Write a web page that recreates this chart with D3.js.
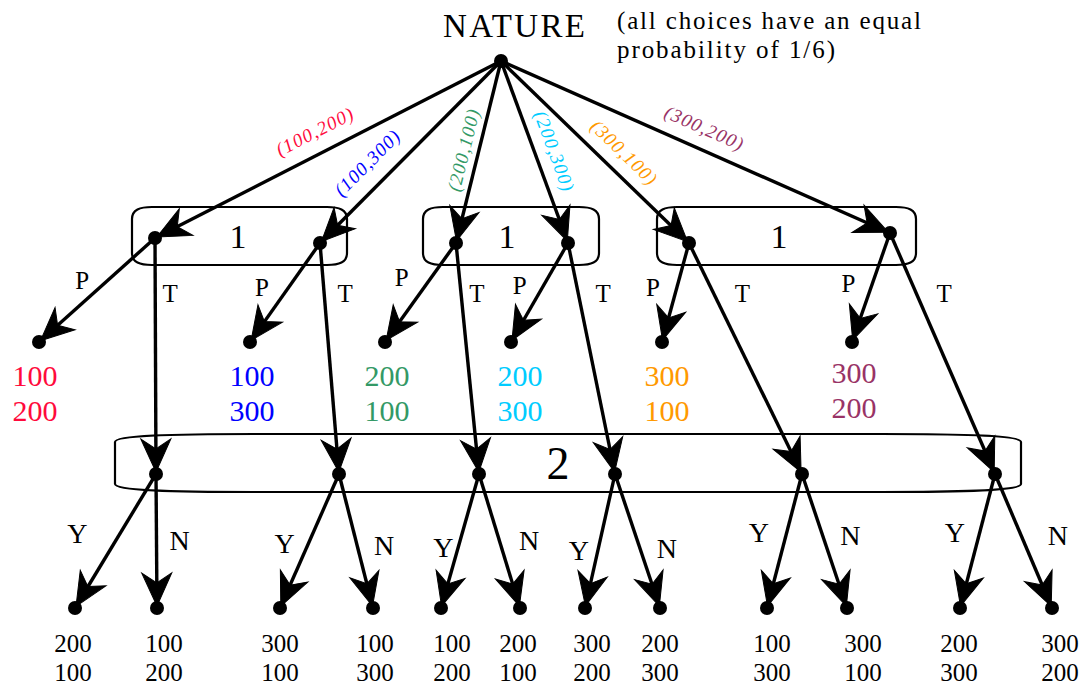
<!DOCTYPE html>
<html>
<head>
<meta charset="utf-8">
<script src="https://cdn.jsdelivr.net/npm/d3@7"></script>
<style>
  body { margin: 0; background: #fff; }
  svg { display: block; }
  text { font-family: "Liberation Serif", "Times New Roman", serif; }
</style>
</head>
<body>
<script>

// ---- tree data ----
var natureMoves = ["(100,200)", "(100,300)", "(200,100)", "(200,300)", "(300,100)", "(300,200)"];
var moveColors = ["#ff0a3c", "#0000ff", "#339966", "#00ccff", "#ff9900", "#993366"];
var p1Actions = ["P", "T"];
var p2Actions = ["Y", "N"];
var payoffP = [[100, 200], [100, 300], [200, 100], [200, 300], [300, 100], [300, 200]];
var payoffY = [[200, 100], [300, 100], [100, 200], [300, 200], [100, 300], [200, 300]];
var payoffN = [[100, 200], [100, 300], [200, 100], [200, 300], [300, 100], [300, 200]];

// ---- layout ----
var width = 1084,
    height = 688;

var levelY = d3.scaleOrdinal()
    .domain(["nature", "p1", "leafP", "p2", "leaf"])
    .range([61, 243, 342, 474, 608]);

var natureX = 501;
var p1X = [155, 320, 456, 568, 689, 890];
var p1Dy = [-5, 0, 0, 0, 0, -10];
var leafPX = [39, 250, 385, 511, 662, 852];
var p2X = [156, 339, 479, 615, 802, 995];
var leafYX = [75, 280, 441, 585, 767, 960];
var leafNX = [157, 373, 520, 660, 847, 1052];

var boxes1 = [[132, 347], [423, 599], [657, 916]];
var box1Y = [207, 265];
var box2 = {x0: 115, x1: 1021, y0: 434, y1: 492};

var moveT = [0.51, 0.65, 0.51, 0.53, 0.58, 0.5];
var moveOff = [22, 23, 15, 19, 20, 21];
var pLab = {y: [280, 287, 277, 285, 287, 283], dx: [-26, -27, -30, -24, -24, -24]};
var tLab = {y: [293, 293, 293, 293, 293, 293], dx: [15, 21, 16, 25, 29, 28]};
var yLab = {y: [533, 543, 547, 550, 532, 532], dx: [-43, -24, -15, -19, -28, -25]};
var nLab = {y: [540, 545, 540, 548, 535, 535], dx: [23, 27, 30, 27, 28, 37]};
var payPShift = [-4, 2, 2, 9, 5, 2];
var payYShift = [-2, 0, 11, 7, 5, -1];
var payNShift = [7, 2, -2, 0, 16, 8];

var svg = d3.select("body").append("svg")
    .attr("width", width)
    .attr("height", height);

// node positions
var natureNode = {x: natureX, y: levelY("nature")};
var p1Nodes = p1X.map(function(x, i) { return {x: x, y: levelY("p1") + p1Dy[i]}; });
var leafPNodes = leafPX.map(function(x) { return {x: x, y: levelY("leafP")}; });
var p2Nodes = p2X.map(function(x) { return {x: x, y: levelY("p2")}; });
var leafYNodes = leafYX.map(function(x) { return {x: x, y: levelY("leaf")}; });
var leafNNodes = leafNX.map(function(x) { return {x: x, y: levelY("leaf")}; });

// rounded "sausage" shape for information sets
function infoPath(x0, x1, y0, y1, drop, run) {
  return "M" + x0 + "," + (y0 + drop) +
    " C" + x0 + "," + (y0 + drop * 0.2) + " " + (x0 + run * 0.4) + "," + y0 + " " + (x0 + run) + "," + y0 +
    " L" + (x1 - run) + "," + y0 +
    " C" + (x1 - run * 0.4) + "," + y0 + " " + x1 + "," + (y0 + drop * 0.2) + " " + x1 + "," + (y0 + drop) +
    " L" + x1 + "," + (y1 - drop) +
    " C" + x1 + "," + (y1 - drop * 0.2) + " " + (x1 - run * 0.4) + "," + y1 + " " + (x1 - run) + "," + y1 +
    " L" + (x0 + run) + "," + y1 +
    " C" + (x0 + run * 0.4) + "," + y1 + " " + x0 + "," + (y1 - drop * 0.2) + " " + x0 + "," + (y1 - drop) + " Z";
}

svg.append("g").selectAll("path")
    .data(boxes1)
  .enter().append("path")
    .attr("d", function(b) { return infoPath(b[0], b[1], box1Y[0], box1Y[1], 12, 20); })
    .attr("fill", "none")
    .attr("stroke", "#000")
    .attr("stroke-width", 2.2);

svg.append("path")
    .attr("d", infoPath(box2.x0, box2.x1, box2.y0, box2.y1, 8, 140))
    .attr("fill", "none")
    .attr("stroke", "#000")
    .attr("stroke-width", 2.2);

svg.selectAll(".p1set")
    .data(boxes1)
  .enter().append("text")
    .attr("class", "p1set")
    .attr("x", function(b, i) { return [238, 507, 779][i]; })
    .attr("y", 248)
    .attr("text-anchor", "middle")
    .attr("font-size", 34)
    .text("1");

svg.append("text")
    .attr("x", 558)
    .attr("y", 479)
    .attr("text-anchor", "middle")
    .attr("font-size", 46)
    .text("2");

// edges
var edges = [];
p1Nodes.forEach(function(n) { edges.push([natureNode, n]); });
p1Nodes.forEach(function(n, i) {
  edges.push([n, leafPNodes[i]]);
  edges.push([n, p2Nodes[i]]);
});
p2Nodes.forEach(function(n, i) {
  edges.push([n, leafYNodes[i]]);
  edges.push([n, leafNNodes[i]]);
});

svg.append("g").selectAll("line")
    .data(edges)
  .enter().append("line")
    .attr("x1", function(d) { return d[0].x; })
    .attr("y1", function(d) { return d[0].y; })
    .attr("x2", function(d) { return d[1].x; })
    .attr("y2", function(d) { return d[1].y; })
    .attr("stroke", "#000")
    .attr("stroke-width", 3.4);

// arrowheads, tip just short of the target node
svg.append("g").selectAll("path")
    .data(edges)
  .enter().append("path")
    .attr("d", "M0,0 L-33,-15 L-23,0 L-33,15 Z")
    .attr("fill", "#000")
    .attr("stroke", "#000")
    .attr("stroke-width", 1)
    .attr("stroke-linejoin", "miter")
    .attr("transform", function(d) {
      var dx = d[1].x - d[0].x, dy = d[1].y - d[0].y;
      var len = Math.sqrt(dx * dx + dy * dy);
      var tx = d[1].x - dx / len * 2, ty = d[1].y - dy / len * 2;
      return "translate(" + tx + "," + ty + ") rotate(" + (Math.atan2(dy, dx) * 180 / Math.PI) + ")";
    });

// dots
var allNodes = [natureNode].concat(p1Nodes, leafPNodes, p2Nodes, leafYNodes, leafNNodes);
svg.append("g").selectAll("circle")
    .data(allNodes)
  .enter().append("circle")
    .attr("cx", function(d) { return d.x; })
    .attr("cy", function(d) { return d.y; })
    .attr("r", 7)
    .attr("fill", "#000");

// nature text
svg.append("text")
    .attr("x", 443)
    .attr("y", 37)
    .attr("font-size", 33)
    .attr("textLength", 142)
    .attr("lengthAdjust", "spacing")
    .text("NATURE");

svg.append("text")
    .attr("x", 617)
    .attr("y", 29)
    .attr("font-size", 25)
    .attr("textLength", 304)
    .attr("lengthAdjust", "spacing")
    .text("(all choices have an equal");

svg.append("text")
    .attr("x", 617)
    .attr("y", 58)
    .attr("font-size", 25)
    .attr("textLength", 218)
    .attr("lengthAdjust", "spacing")
    .text("probability of 1/6)");

// nature move labels, written along each branch
svg.append("g").selectAll("text")
    .data(natureMoves)
  .enter().append("text")
    .attr("transform", function(d, i) {
      var n = p1Nodes[i];
      var dx = n.x - natureNode.x, dy = n.y - natureNode.y;
      var len = Math.sqrt(dx * dx + dy * dy);
      var ux = dx / len, uy = dy / len;
      var side = dx < 0 ? -1 : 1;
      var px = side * uy * moveOff[i], py = -side * ux * moveOff[i];
      var cx = natureNode.x + dx * moveT[i] + px,
          cy = natureNode.y + dy * moveT[i] + py;
      var ang = Math.atan(dy / dx) * 180 / Math.PI;
      return "translate(" + cx + "," + cy + ") rotate(" + ang + ")";
    })
    .attr("text-anchor", "middle")
    .attr("dominant-baseline", "central")
    .attr("font-size", 19)
    .attr("font-style", "italic")
    .attr("textLength", 84)
    .attr("lengthAdjust", "spacing")
    .attr("fill", function(d, i) { return moveColors[i]; })
    .text(function(d) { return d; });

// action labels
function xAt(a, b, y) {
  return a.x + (b.x - a.x) * (y - a.y) / (b.y - a.y);
}

var actionLabels = [];
p1Nodes.forEach(function(n, i) {
  actionLabels.push({t: p1Actions[0], x: xAt(n, leafPNodes[i], pLab.y[i]) + pLab.dx[i], y: pLab.y[i], s: 25});
  actionLabels.push({t: p1Actions[1], x: xAt(n, p2Nodes[i], tLab.y[i]) + tLab.dx[i], y: tLab.y[i], s: 25});
});
p2Nodes.forEach(function(n, i) {
  actionLabels.push({t: p2Actions[0], x: xAt(n, leafYNodes[i], yLab.y[i]) + yLab.dx[i], y: yLab.y[i], s: 28});
  actionLabels.push({t: p2Actions[1], x: xAt(n, leafNNodes[i], nLab.y[i]) + nLab.dx[i], y: nLab.y[i], s: 28});
});

svg.append("g").selectAll("text")
    .data(actionLabels)
  .enter().append("text")
    .attr("x", function(d) { return d.x; })
    .attr("y", function(d) { return d.y; })
    .attr("text-anchor", "middle")
    .attr("dominant-baseline", "central")
    .attr("font-size", function(d) { return d.s; })
    .text(function(d) { return d.t; });

// payoffs after P (coloured)
var payP = svg.append("g").selectAll("g")
    .data(payoffP)
  .enter().append("g")
    .attr("fill", function(d, i) { return moveColors[i]; });

payP.append("text")
    .attr("x", function(d, i) { return leafPNodes[i].x + payPShift[i]; })
    .attr("y", function(d, i) { return i == 5 ? 383 : 386; })
    .attr("text-anchor", "middle")
    .attr("font-size", 30)
    .text(function(d) { return d[0]; });

payP.append("text")
    .attr("x", function(d, i) { return leafPNodes[i].x + payPShift[i]; })
    .attr("y", function(d, i) { return i == 5 ? 418 : 421; })
    .attr("text-anchor", "middle")
    .attr("font-size", 30)
    .text(function(d) { return d[1]; });

// final payoffs
var finals = [];
payoffY.forEach(function(d, i) {
  finals.push({v: d, x: leafYNodes[i].x + payYShift[i]});
  finals.push({v: payoffN[i], x: leafNNodes[i].x + payNShift[i]});
});

var fin = svg.append("g").selectAll("g")
    .data(finals)
  .enter().append("g");

fin.append("text")
    .attr("x", function(d) { return d.x; })
    .attr("y", 652)
    .attr("text-anchor", "middle")
    .attr("font-size", 25)
    .text(function(d) { return d.v[0]; });

fin.append("text")
    .attr("x", function(d) { return d.x; })
    .attr("y", 681)
    .attr("text-anchor", "middle")
    .attr("font-size", 25)
    .text(function(d) { return d.v[1]; });

</script>
</body>
</html>
